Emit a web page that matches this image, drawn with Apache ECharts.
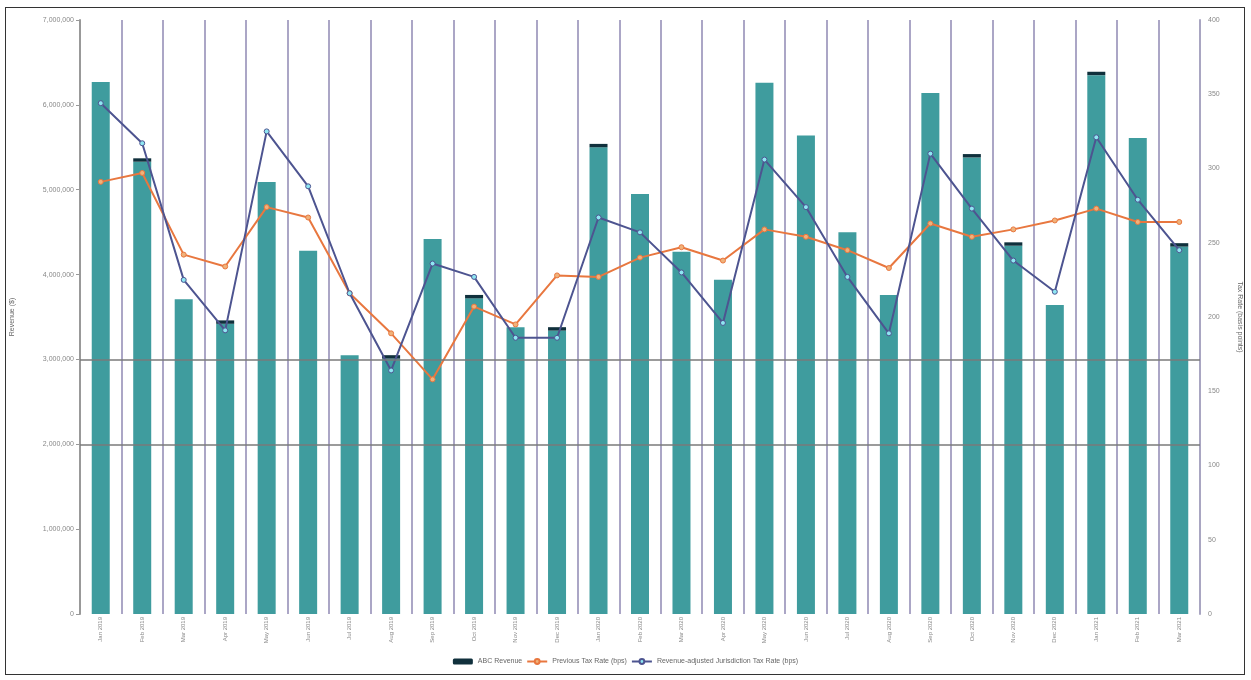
<!DOCTYPE html>
<html>
<head>
<meta charset="utf-8">
<script src="https://cdn.jsdelivr.net/npm/echarts@6/dist/echarts.min.js"></script>
<style>
  html, body { margin: 0; padding: 0; background: #fff; }
  #frame { position: absolute; left: 5px; top: 7px; width: 1240px; height: 668px; border: 1px solid #333; box-sizing: border-box; }
  #main { position: absolute; left: 0; top: 0; width: 1251px; height: 680px; }
</style>
</head>
<body>
<div id="frame"></div>
<div id="main"></div>
<script>
/* categories (months) */
const categories = [
  'Jan 2019', 'Feb 2019', 'Mar 2019', 'Apr 2019', 'May 2019', 'Jun 2019', 'Jul 2019', 'Aug 2019', 'Sep 2019',
  'Oct 2019', 'Nov 2019', 'Dec 2019', 'Jan 2020', 'Feb 2020', 'Mar 2020', 'Apr 2020', 'May 2020', 'Jun 2020',
  'Jul 2020', 'Aug 2020', 'Sep 2020', 'Oct 2020', 'Nov 2020', 'Dec 2020', 'Jan 2021', 'Feb 2021', 'Mar 2021'
];

/* revenue, main part of the bar */
const revenueBase = [
  6270000, 5330000, 3710000, 3420000, 5090000, 4280000, 3050000, 3010000, 4420000,
  3720000, 3380000, 3340000, 5500000, 4950000, 4270000, 3940000, 6260000, 5640000,
  4500000, 3760000, 6140000, 5380000, 4340000, 3640000, 6350000, 5610000, 4330000
];
/* ABC revenue, small dark cap on top */
const abcRevenue = [
  0, 40000, 0, 40000, 0, 0, 0, 40000, 0,
  40000, 0, 40000, 40000, 0, 0, 0, 0, 0,
  0, 0, 0, 40000, 40000, 0, 40000, 0, 40000
];
/* tax rates, right axis */
const previousRate = [
  291, 297, 242, 234, 274, 267, 216, 189, 158,
  207, 195, 228, 227, 240, 247, 238, 259, 254,
  245, 233, 263, 254, 259, 265, 273, 264, 264
];
const adjustedRate = [
  344, 317, 225, 191, 325, 288, 216, 164, 236,
  227, 186, 186, 267, 257, 230, 196, 306, 274,
  227, 189, 310, 273, 238, 217, 321, 279, 245
];
/* guide lines on the left axis */
const guideLevels = [2000000, 3000000];

const textGray = '#888';

const chart = echarts.init(document.getElementById('main'));
chart.setOption({
  animation: false,
  grid: { left: 80, right: 49, top: 20, bottom: 66 },
  legend: {
    bottom: 10,
    left: 'center',
    itemWidth: 20,
    itemHeight: 6,
    itemGap: 4,
    textStyle: { fontSize: 7, color: '#666' },
    data: ['ABC Revenue', 'Previous Tax Rate (bps)', 'Revenue-adjusted Jurisdiction Tax Rate (bps)']
  },
  xAxis: {
    type: 'category',
    data: categories,
    axisLine: { show: false },
    axisTick: { show: false },
    axisLabel: { rotate: 90, fontSize: 6, color: textGray, margin: 3 },
    splitLine: { show: true, lineStyle: { color: '#aba6c6', width: 2 } }
  },
  yAxis: [
    {
      type: 'value',
      min: 0, max: 7000000, interval: 1000000,
      name: 'Revenue ($)',
      nameLocation: 'middle',
      nameGap: 64,
      nameTextStyle: { fontSize: 7, color: '#666' },
      axisLine: { show: true, lineStyle: { color: '#999', width: 2 } },
      axisTick: { show: true, length: 4, lineStyle: { color: '#999' } },
      axisLabel: { fontSize: 7, color: textGray, margin: 6 },
      splitLine: { show: false }
    },
    {
      type: 'value',
      min: 0, max: 400, interval: 50,
      name: 'Tax Rate (basis points)',
      nameLocation: 'middle',
      nameGap: 36,
      nameRotate: -90,
      nameTextStyle: { fontSize: 7, color: '#666' },
      axisLine: { show: true, lineStyle: { color: '#a9a6c2', width: 2 } },
      axisTick: { show: false },
      axisLabel: { fontSize: 7, color: textGray, margin: 8 },
      splitLine: { show: false }
    }
  ],
  series: [
    {
      name: 'Revenue',
      type: 'bar',
      stack: 'rev',
      barWidth: 18,
      data: revenueBase,
      itemStyle: { color: '#3f9c9e' },
      markLine: {
        silent: true,
        symbol: 'none',
        label: { show: false },
        lineStyle: { color: '#7a7a7a', width: 1.5, type: 'solid' },
        data: guideLevels.map(v => ({ yAxis: v }))
      }
    },
    {
      name: 'ABC Revenue',
      type: 'bar',
      stack: 'rev',
      barWidth: 18,
      data: abcRevenue,
      itemStyle: { color: '#10303c' }
    },
    {
      name: 'Previous Tax Rate (bps)',
      type: 'line',
      yAxisIndex: 1,
      data: previousRate,
      symbol: 'circle',
      symbolSize: 5,
      lineStyle: { color: '#e8773f', width: 2 },
      itemStyle: { color: '#f0b27a', borderColor: '#e8773f', borderWidth: 1 }
    },
    {
      name: 'Revenue-adjusted Jurisdiction Tax Rate (bps)',
      type: 'line',
      yAxisIndex: 1,
      data: adjustedRate,
      symbol: 'circle',
      symbolSize: 5,
      lineStyle: { color: '#4d5490', width: 2 },
      itemStyle: { color: '#8ee6f2', borderColor: '#4d5490', borderWidth: 1 }
    }
  ]
});
</script>
</body>
</html>
